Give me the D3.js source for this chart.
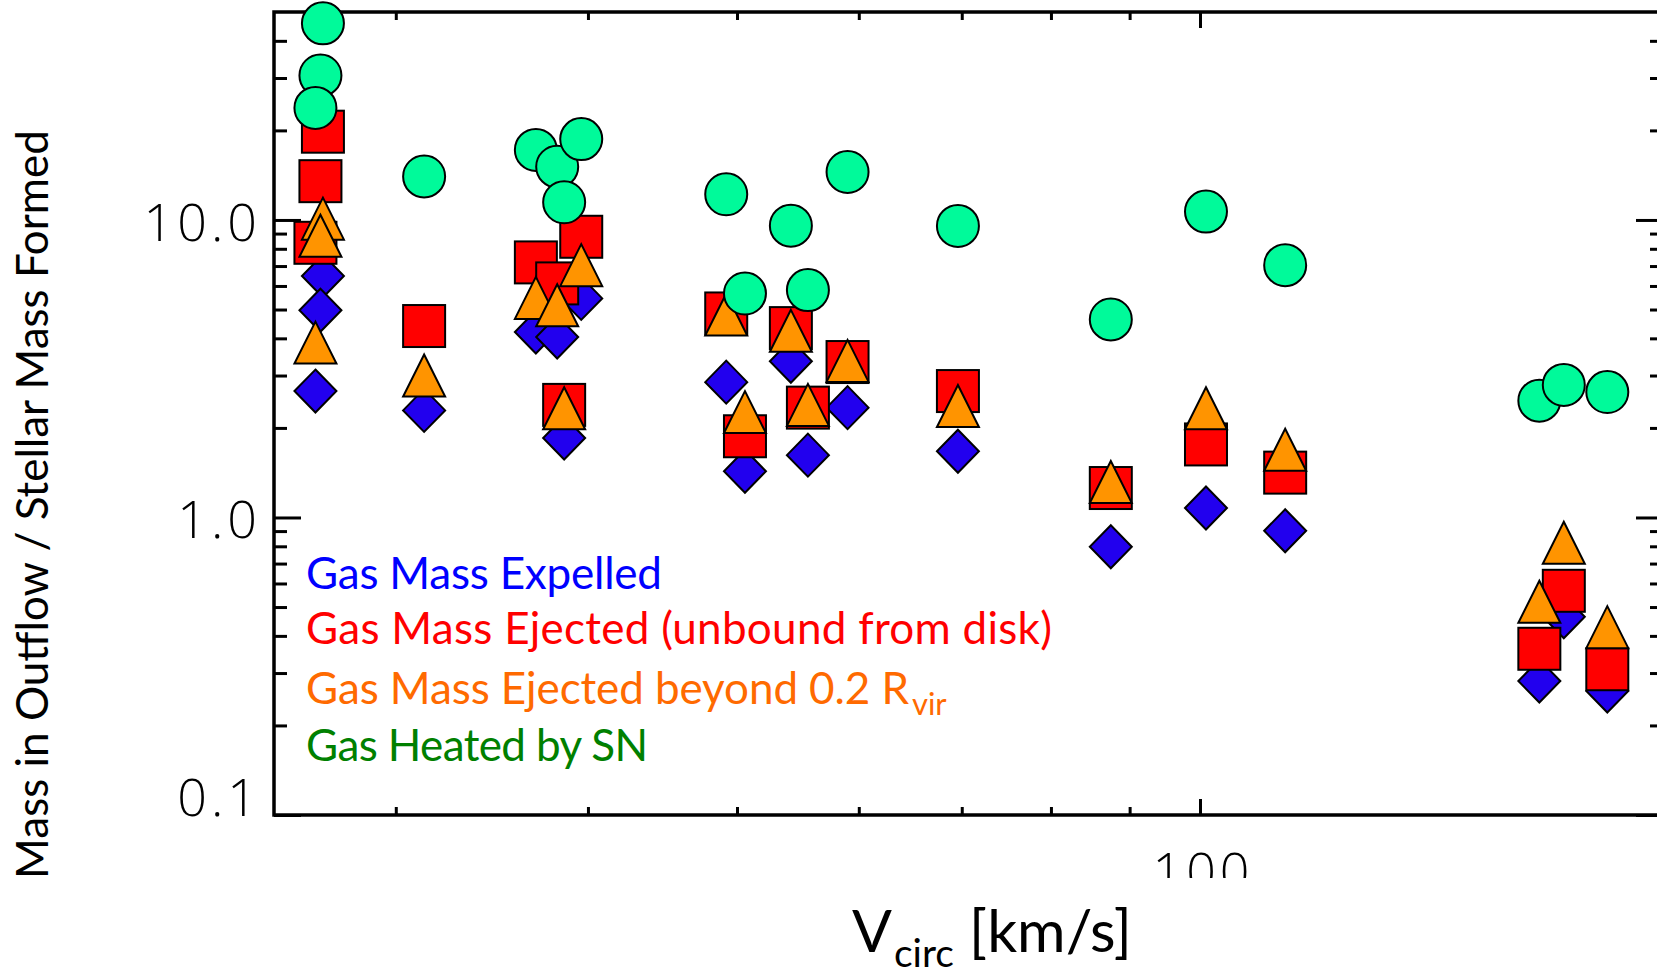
<!DOCTYPE html>
<html>
<head>
<meta charset="utf-8">
<script src="https://cdn.jsdelivr.net/npm/d3@7"></script>
<style>
  html, body { margin: 0; padding: 0; background: #fff; }
  svg { display: block; }
  .tick text { display: none; }
</style>
</head>
<body>
<svg id="chart" width="1657" height="971"></svg>
<script>
// Circular velocity of each simulated galaxy [km/s]
const vcirc = [26.9, 26.8, 26.6, 31.3, 37.0, 38.2, 39.6, 38.6, 49.2, 50.6,
               54.2, 55.6, 59.0, 69.6, 87.5, 100.9, 113.6, 166.2, 172.4, 184.0];
// Mass in outflow divided by stellar mass formed, one entry per galaxy
const expelled      = [6.48, 4.97, 2.66, 2.29, 4.20, 4.04, 5.45, 1.85, 2.85, 1.43,
                       3.35, 1.62, 2.34, 1.67, 0.797, 1.076, 0.902, 0.282, 0.464, 0.261];
const ejected       = [19.8, 13.5, 8.38, 4.40, 7.20, 6.12, 8.78, 2.39, 4.85, 1.875,
                       4.33, 2.34, 3.33, 2.66, 1.256, 1.76, 1.415, 0.362, 0.567, 0.309];
const ejectedBeyond = [10.1, 8.85, 3.87, 3.00, 5.47, 5.17, 7.05, 2.33, 4.81, 2.26,
                       4.24, 2.39, 3.36, 2.37, 1.316, 2.33, 1.69, 0.521, 0.822, 0.428];
const heated        = [45.8, 30.6, 23.8, 14.0, 17.2, 15.1, 18.7, 11.47, 12.2, 5.66,
                       9.57, 5.81, 14.5, 9.55, 4.63, 10.67, 7.05, 2.47, 2.79, 2.64];

// Axis ticks
const xDomain = [25, 200];
const yDomain = [0.1, 50];
const xMajor = [100];
const xMinor = [30, 40, 50, 60, 70, 80, 90];
const yMajor = [0.1, 1, 10];
const yMinor = [0.2, 0.3, 0.4, 0.5, 0.6, 0.7, 0.8, 0.9, 2, 3, 4, 5, 6, 7, 8, 9, 20, 30, 40];
const yTickLabels = ["0.1", "1.0", "10.0"];
const xTickLabels = ["100"];

const legendLines = [
  { text: "Gas Mass Expelled", color: "#0000ff", len: 356 },
  { text: "Gas Mass Ejected (unbound from disk)", color: "#ff0000", len: 746 },
  { text: "Gas Mass Ejected beyond 0.2 R", sub: "vir", color: "#ff6a00", len: 603 },
  { text: "Gas Heated by SN", color: "#008000", len: 342 }
];

// Plot frame
const L = 274, R = 1663, T = 12, B = 815;
const svg = d3.select("#chart");

const x = d3.scaleLog().domain(xDomain).range([L, R]);
const y = d3.scaleLog().domain(yDomain).range([B, T]);

const AX = "#000";
const axisW = 3.5, tickW = 3;

function styleAxis(g) {
  g.select(".domain").remove();
  g.selectAll(".tick line").attr("stroke", AX).attr("stroke-width", tickW);
}

// Inward ticks on all four sides
svg.append("g").attr("transform", `translate(${L},0)`)
  .call(d3.axisRight(y).tickValues(yMajor).tickSize(27).tickFormat("")).call(styleAxis);
svg.append("g").attr("transform", `translate(${L},0)`)
  .call(d3.axisRight(y).tickValues(yMinor).tickSize(13).tickFormat("")).call(styleAxis);
svg.append("g").attr("transform", `translate(${R},0)`)
  .call(d3.axisLeft(y).tickValues(yMajor).tickSize(27).tickFormat("")).call(styleAxis);
svg.append("g").attr("transform", `translate(${R},0)`)
  .call(d3.axisLeft(y).tickValues(yMinor).tickSize(13).tickFormat("")).call(styleAxis);
svg.append("g").attr("transform", `translate(0,${B})`)
  .call(d3.axisTop(x).tickValues(xMajor).tickSize(16).tickFormat("")).call(styleAxis);
svg.append("g").attr("transform", `translate(0,${B})`)
  .call(d3.axisTop(x).tickValues(xMinor).tickSize(8).tickFormat("")).call(styleAxis);
svg.append("g").attr("transform", `translate(0,${T})`)
  .call(d3.axisBottom(x).tickValues(xMajor).tickSize(16).tickFormat("")).call(styleAxis);
svg.append("g").attr("transform", `translate(0,${T})`)
  .call(d3.axisBottom(x).tickValues(xMinor).tickSize(8).tickFormat("")).call(styleAxis);

// Frame lines
svg.append("rect").attr("x", L).attr("y", T).attr("width", R - L).attr("height", B - T)
  .attr("fill", "none").attr("stroke", AX).attr("stroke-width", axisW);

// Tick labels
const tickFont = "'Open Sans', 'Noto Sans', sans-serif";
svg.append("g").selectAll("text").data(yMajor).join("text")
  .attr("x", 261)
  .attr("y", d => Math.min(y(d) + 21, 816))
  .attr("text-anchor", "end")
  .attr("font-family", tickFont).attr("font-size", 52).attr("font-weight", 300)
  .attr("letter-spacing", 4)
  .attr("fill", "#000")
  .text((d, i) => yTickLabels[i]);

svg.append("clipPath").attr("id", "xlabClip")
  .append("rect").attr("x", 0).attr("y", 0).attr("width", 1657).attr("height", 878);
svg.append("g").attr("clip-path", "url(#xlabClip)")
  .selectAll("text").data(xMajor).join("text")
  .attr("x", d => x(d) + 3).attr("y", 890)
  .attr("text-anchor", "middle")
  .attr("font-family", tickFont).attr("font-size", 52).attr("font-weight", 300)
  .attr("letter-spacing", 4)
  .attr("fill", "#000")
  .text((d, i) => xTickLabels[i]);

// Markers
const S = 42;
const stroke = "#000", sw = 2;
const pts = vcirc.map((v, i) => ({ v, i }));

// Gas mass expelled: blue diamonds
svg.append("g").selectAll("path").data(pts).join("path")
  .attr("d", d => {
    const cx = x(d.v), cy = y(expelled[d.i]), hw = S / 2, hh = 21.5;
    return `M${cx},${cy - hh}L${cx + hw},${cy}L${cx},${cy + hh}L${cx - hw},${cy}Z`;
  })
  .attr("fill", "#2200ee").attr("stroke", stroke).attr("stroke-width", sw);

// Gas mass ejected: red squares
svg.append("g").selectAll("rect").data(pts).join("rect")
  .attr("x", d => x(d.v) - S / 2).attr("y", d => y(ejected[d.i]) - S / 2)
  .attr("width", S).attr("height", S)
  .attr("fill", "#ff0000").attr("stroke", stroke).attr("stroke-width", sw);

// Gas ejected beyond 0.2 Rvir: orange triangles
svg.append("g").selectAll("path").data(pts).join("path")
  .attr("d", d => {
    const cx = x(d.v), cy = y(ejectedBeyond[d.i]), h = S / 2;
    return `M${cx},${cy - h}L${cx + h},${cy + h}L${cx - h},${cy + h}Z`;
  })
  .attr("fill", "#ff9400").attr("stroke", stroke).attr("stroke-width", sw)
  .attr("stroke-linejoin", "miter");

// Gas heated by supernovae: green circles
svg.append("g").selectAll("circle").data(pts).join("circle")
  .attr("cx", d => x(d.v)).attr("cy", d => y(heated[d.i])).attr("r", S / 2)
  .attr("fill", "#00fa9a").attr("stroke", stroke).attr("stroke-width", sw);

// Legend text
const textFont = "Lato, 'Open Sans', sans-serif";
const legendBase = [589, 644, 704, 761];
const leg = svg.append("g");
legendLines.forEach((l, i) => {
  const t = leg.append("text")
    .attr("x", 306).attr("y", legendBase[i])
    .attr("font-family", textFont).attr("font-size", 44)
    .attr("fill", l.color);
  t.append("tspan").attr("textLength", l.len).attr("lengthAdjust", "spacing").text(l.text);
  if (l.sub) {
    t.append("tspan").attr("font-size", 31).attr("dy", 11).attr("dx", 3).text(l.sub);
  }
});

// Axis titles
const xt = svg.append("text")
  .attr("x", 852).attr("y", 952)
  .attr("font-family", textFont).attr("font-size", 59).attr("fill", "#000");
xt.append("tspan").text("V");
xt.append("tspan").attr("font-size", 39).attr("dy", 15).attr("dx", 2).text("circ");
xt.append("tspan").attr("dy", -15).text(" [km/s]");

svg.append("text")
  .attr("transform", "translate(48,504.5) rotate(-90)")
  .attr("text-anchor", "middle")
  .attr("font-family", textFont).attr("font-size", 44).attr("fill", "#000")
  .text("Mass in Outflow / Stellar Mass Formed");
</script>
</body>
</html>
